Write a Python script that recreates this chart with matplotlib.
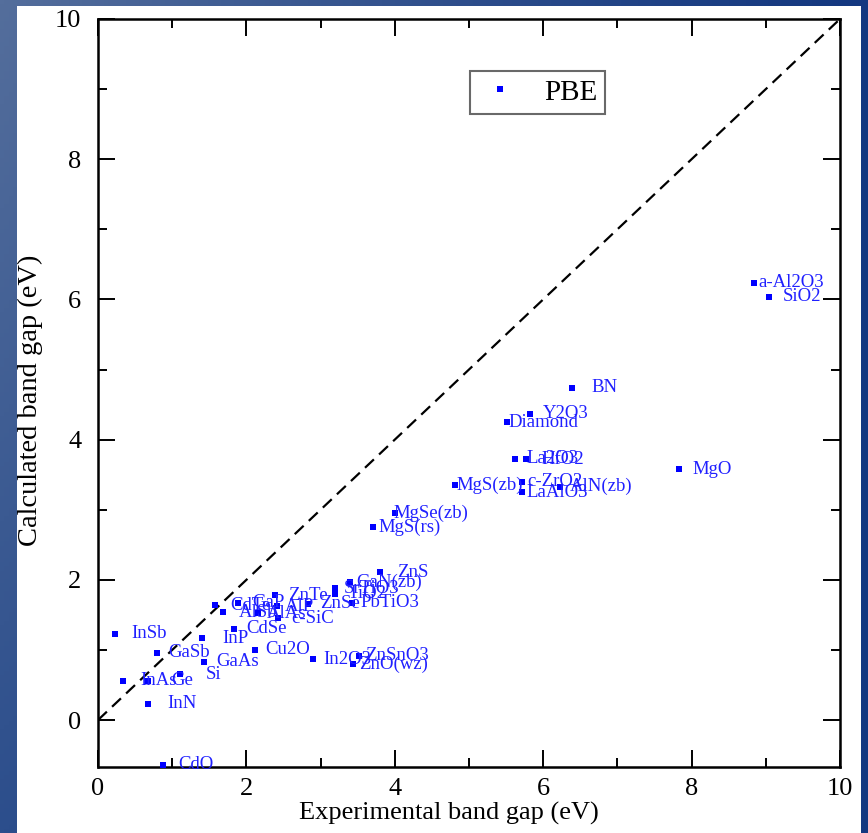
import numpy as np
import matplotlib
matplotlib.use("Agg")
import matplotlib.pyplot as plt
from matplotlib.patches import Rectangle

# Experimental vs. calculated (PBE) band gaps, eV
materials = ["InSb", "GaSb", "InAs", "Ge", "Si", "InN", "GaAs", "InP", "CdSe",
             "Cu2O", "In2O3", "ZnSnO3", "ZnO(wz)", "CdTe", "AlSb", "GaP", "AlAs",
             "AlP", "ZnTe", "c-SiC", "ZnSe", "SrTiO3", "TiO2", "PbTiO3", "GaN(zb)",
             "ZnS", "MgS(rs)", "MgSe(zb)", "MgS(zb)", "Diamond", "Y2O3", "BN",
             "La2O3", "HfO2", "c-ZrO2", "AlN(zb)", "LaAlO3", "MgO", "a-Al2O3",
             "SiO2", "CdO"]
exp_gap = [0.23, 0.80, 0.34, 0.67, 1.11, 0.67, 1.43, 1.40, 1.83,
           2.12, 2.90, 3.52, 3.44, 1.58, 1.69, 1.89, 2.16,
           2.41, 2.39, 2.43, 2.83, 3.20, 3.20, 3.42, 3.40,
           3.80, 3.70, 4.00, 4.81, 5.51, 5.82, 6.39,
           5.62, 5.77, 5.71, 6.23, 5.72, 7.83, 8.84,
           9.04, 0.88]
calc_gap = [1.23, 0.96, 0.56, 0.56, 0.65, 0.23, 0.83, 1.17, 1.30,
            1.00, 0.87, 0.92, 0.80, 1.64, 1.54, 1.67, 1.52,
            1.62, 1.78, 1.45, 1.66, 1.88, 1.80, 1.67, 1.97,
            2.11, 2.75, 2.95, 3.35, 4.25, 4.37, 4.74,
            3.73, 3.72, 3.40, 3.33, 3.25, 3.58, 6.24,
            6.04, -0.64]

# horizontal gap between each marker and its label, in points
label_gap = [12, 8, 12, 17, 18, 14, 9, 15, 9,
             7, 7, 4, 4, 11, 11, 10, 6,
             6, 9, 9, 9, 6, 9, 6, 4,
             12, 4, -1, 1, 1, 9, 14,
             8, 11, 4, 7, 3, 10, 3,
             10, 11]

W, H = 868, 833
fig = plt.figure(figsize=(W / 100, H / 100), dpi=100)

# blue gradient backdrop with a white panel
bg = fig.add_axes([0, 0, 1, 1], zorder=-10)
xs = np.linspace(0, 1, 200)[None, :, None]
ys = np.linspace(0, 1, 200)[:, None, None]
left_top = np.array([84, 110, 156]) / 255
left_bot = np.array([44, 78, 140]) / 255
right = np.array([20, 56, 128]) / 255
left = left_top * (1 - ys) + left_bot * ys
img = left * (1 - xs) ** 1.2 + right * (1 - (1 - xs) ** 1.2)
bg.imshow(img, extent=[0, 1, 0, 1], aspect="auto", origin="upper")
bg.add_patch(Rectangle((17 / W, 0), (861 - 17) / W, (H - 6) / H,
                       facecolor="white", edgecolor="none"))
bg.set_xlim(0, 1)
bg.set_ylim(0, 1)
bg.axis("off")

serif = "Liberation Serif"
ax = fig.add_axes([98 / W, 1 - 767 / H, (840 - 98) / W, (767 - 19) / H])
ax.set_facecolor("white")

ax.plot([0, 10], [0, 10], color="black", lw=1.6, ls=(0, (5.5, 3.2)), zorder=1)
ax.plot(exp_gap, calc_gap, ls="none", marker="s", ms=4.3, mfc="#0000ff",
        mec="#0000ff", mew=0, label="PBE", zorder=3, clip_on=False)

for name, xv, yv, gap in zip(materials, exp_gap, calc_gap, label_gap):
    ax.annotate(name, (xv, yv), xytext=(gap, 0), textcoords="offset points",
                ha="left", va="center", color="#2020ff", fontsize=13.5,
                family=serif, zorder=4)

ax.set_xlim(0, 10)
ax.set_ylim(-0.67, 10)
ax.set_xticks([0, 2, 4, 6, 8, 10])
ax.set_yticks([0, 2, 4, 6, 8, 10])
ax.set_xticks(np.arange(1, 10, 2), minor=True)
ax.set_yticks(np.arange(1, 10, 2), minor=True)
ax.tick_params(which="both", direction="in", top=True, right=True, width=1.4,
               labelsize=19)
ax.tick_params(axis="x", pad=8)
ax.tick_params(axis="y", pad=12)
ax.tick_params(which="major", length=12)
ax.tick_params(which="minor", length=6.5)
for lbl in ax.get_xticklabels() + ax.get_yticklabels():
    lbl.set_family(serif)
for sp in ax.spines.values():
    sp.set_linewidth(1.8)

ax.set_xlabel("Experimental band gap (eV)", family=serif, fontsize=19)
ax.xaxis.set_label_coords((449 - 98) / 742, -(802 - 767) / 748)
ax.set_ylabel("Calculated band gap (eV)", family=serif, fontsize=20.5)
ax.yaxis.set_label_coords(-(98 - 43) / 742, 1 - (400 - 19) / 748)

leg = ax.legend(loc="upper left", bbox_to_anchor=((470 - 98) / 742, 1 - (71 - 19) / 748),
                prop={"family": serif, "size": 21}, frameon=True, fancybox=False,
                handlelength=1.5, handletextpad=0.75, borderpad=0.28,
                borderaxespad=0, markerscale=1.0)
leg.get_frame().set_edgecolor("#444444")
leg.get_frame().set_linewidth(1.5)

fig.savefig("out.png", dpi=100)
